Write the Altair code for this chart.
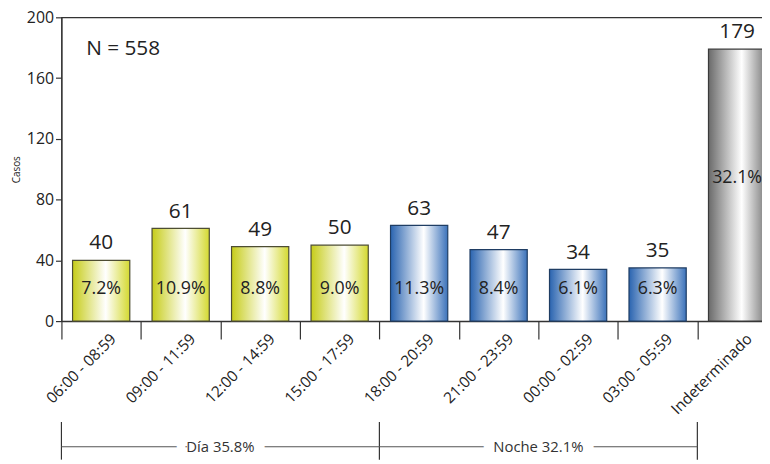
import altair as alt
import pandas as pd

# ---- data ----
categories = ["06:00 - 08:59", "09:00 - 11:59", "12:00 - 14:59", "15:00 - 17:59",
              "18:00 - 20:59", "21:00 - 23:59", "00:00 - 02:59", "03:00 - 05:59",
              "Indeterminado"]
values = [40, 61, 49, 50, 63, 47, 34, 35, 179]
percents = ["7.2%", "10.9%", "8.8%", "9.0%", "11.3%", "8.4%", "6.1%", "6.3%", "32.1%"]
groups = ["Día", "Día", "Día", "Día", "Noche", "Noche", "Noche", "Noche", "Indeterminado"]

period_labels = ["Día 35.8%", "Noche 32.1%"]
period_label_at = ["12:00 - 14:59", "00:00 - 02:59"]
period_bounds = ["06:00 - 08:59", "18:00 - 20:59", "Indeterminado"]
n_label = "N = 558"

df = pd.DataFrame({"cat": categories, "value": values, "pct": percents, "group": groups})
lab_df = pd.DataFrame({"cat": period_label_at, "label": period_labels})
bound_df = pd.DataFrame({"cat": period_bounds})
hline_df = pd.DataFrame({"cat": [period_bounds[0]], "cat2": [period_bounds[-1]]})

FONT = "Open Sans"
TXT = "#222222"
W, H = 715, 307

x_axis = alt.Axis(title=None, labelAngle=-45, labelAlign="right", labelBaseline="middle",
                  labelFontSize=15.5, labelFont=FONT, labelColor=TXT, labelOffset=12,
                  labelPadding=-3, tickSize=18, tickBand="extent", tickColor="#333333",
                  domainColor="#333333", tickWidth=1.2, domainWidth=1.2)
x_scale = alt.Scale(domain=categories, paddingInner=0, paddingOuter=0)
y_axis = alt.Axis(values=[0, 40, 80, 120, 160, 200], title="Casos", titleFontSize=10,
                  titleFontWeight="normal", titleFont=FONT, titleColor=TXT, titlePadding=5,
                  labelFontSize=16, labelFont=FONT, labelColor=TXT, tickSize=6, labelPadding=2,
                  grid=False, tickColor="#333333", domainColor="#333333", tickWidth=1.2,
                  domainWidth=1.2)
y_scale = alt.Scale(domain=[0, 200], nice=False)


def xenc(field="cat", **kw):
    return alt.X(f"{field}:N", sort=categories, scale=x_scale, axis=x_axis, **kw)


def yenc(field):
    return alt.Y(f"{field}:Q", scale=y_scale, axis=y_axis)


def grad(c_left, c_right):
    return alt.Gradient(gradient="linear", x1=0, x2=1, y1=0, y2=0,
                        stops=[alt.GradientStop(offset=0, color=c_left),
                               alt.GradientStop(offset=0.58, color="#ffffff"),
                               alt.GradientStop(offset=1, color=c_right)])


base = alt.Chart(df)
styles = {
    "Día": (grad("#c6cc18", "#d4d930"), "#4d4d33"),
    "Noche": (grad("#2a64b0", "#3b72ba"), "#1f3d63"),
    "Indeterminado": (grad("#6a6a6a", "#7c7c7c"), "#3a3a3a"),
}
bar_layers = []
for g, (fill, stroke) in styles.items():
    bar_layers.append(
        base.transform_filter(alt.datum.group == g)
        .mark_bar(fill=fill, stroke=stroke, strokeWidth=1.2, width=alt.RelativeBandSize(0.72))
        .encode(x=xenc(), y=yenc("value"))
    )

val_text = base.mark_text(baseline="bottom", dy=-7, fontSize=21, font=FONT, color=TXT).encode(
    x=xenc(), y=yenc("value"), text="value:Q")

pct_text = base.transform_calculate(
    py="datum.value > 100 ? datum.value * 0.525 : 21"
).mark_text(baseline="middle", fontSize=18, font=FONT, color=TXT).encode(
    x=xenc(), y=yenc("py"), text="pct:N")

n_text = alt.Chart(pd.DataFrame({"t": [n_label]})).mark_text(
    align="left", baseline="middle", fontSize=21, font=FONT, color=TXT).encode(
    x=alt.value(25), y=alt.value(32), text="t:N")

# bottom period annotations
vlines = alt.Chart(bound_df).mark_rule(color="#333333", strokeWidth=1.2).encode(
    x=xenc(bandPosition=0), y=alt.value(409), y2=alt.value(447))
hline = alt.Chart(hline_df).mark_rule(color="#555555", strokeWidth=1.2).encode(
    x=xenc(bandPosition=0), x2=alt.X2("cat2:N", bandPosition=0), y=alt.value(434))
lab_mask = alt.Chart(lab_df).mark_text(
    fontSize=15, font=FONT, color="white", stroke="white", strokeWidth=22,
    baseline="middle").encode(
    x=xenc(bandPosition=0), y=alt.value(434), text="label:N")
lab_text = alt.Chart(lab_df).mark_text(
    fontSize=15, font=FONT, color="#333333", baseline="middle").encode(
    x=xenc(bandPosition=0), y=alt.value(434), text="label:N")

chart = alt.layer(*bar_layers, val_text, pct_text, n_text, vlines, hline, lab_mask, lab_text).properties(
    width=W + 8, height=H,
    autosize=alt.AutoSizeParams(type="none"),
    padding={"left": 54, "top": 7, "right": -15, "bottom": 142},
).configure_view(stroke="#333333", strokeWidth=1.2)

chart.save("out.html", embed_options={"renderer": "svg", "actions": False})
